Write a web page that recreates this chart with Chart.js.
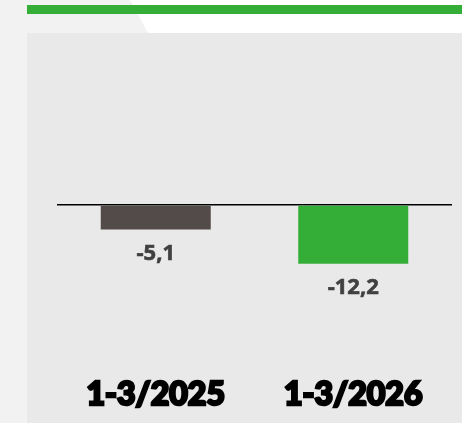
<!DOCTYPE html>
<html><head><meta charset="utf-8">
<script src="https://cdn.jsdelivr.net/npm/chart.js@4/dist/chart.umd.min.js"></script>
<style>html,body{margin:0;padding:0;background:#fff;}#wrap{width:462px;height:423px;position:relative;}</style>
</head><body><div id="wrap"><canvas id="c" width="462" height="423"></canvas></div>
<script>
const categories = ["1-3/2025", "1-3/2026"];
const values = [-5.1, -12.2];
const valueLabels = ["-5,1", "-12,2"];
const barColors = ["#534a4a", "#35ae37"];

const bgPlugin = {
  id: 'bg',
  beforeDraw(chart) {
    const ctx = chart.ctx;
    ctx.save();
    ctx.fillStyle = '#ffffff';
    ctx.fillRect(0, 0, 462, 423);
    ctx.fillStyle = '#f2f2f2';
    ctx.fillRect(0, 0, 27, 423);
    ctx.beginPath();
    ctx.moveTo(0, 0); ctx.lineTo(130, 0); ctx.lineTo(148, 33); ctx.lineTo(0, 33); ctx.closePath();
    ctx.fill();
    ctx.fillStyle = '#e9e9e9';
    ctx.fillRect(27, 33, 435, 390);
    ctx.fillStyle = '#35ae37';
    ctx.fillRect(27, 5, 435, 9);
    ctx.restore();
  }
};

const labelPlugin = {
  id: 'vlabels',
  afterDatasetsDraw(chart) {
    const ctx = chart.ctx;
    const meta = chart.getDatasetMeta(0);
    ctx.save();
    ctx.font = 'bold 22px "Open Sans"';
    ctx.fillStyle = '#404040';
    ctx.strokeStyle = '#404040';
    ctx.lineWidth = 0.6;
    ctx.textAlign = 'center';
    ctx.textBaseline = 'alphabetic';
    meta.data.forEach((bar, i) => {
      ctx.fillText(valueLabels[i], bar.x, bar.y + 30);
      ctx.strokeText(valueLabels[i], bar.x, bar.y + 30);
    });
    ctx.restore();
  }
};

new Chart(document.getElementById('c'), {
  type: 'bar',
  data: {
    labels: categories,
    datasets: [{ data: values, backgroundColor: barColors, barPercentage: 0.557, categoryPercentage: 1 }]
  },
  options: {
    responsive: false,
    animation: false,
    layout: { padding: { left: 57, right: 10, top: 40, bottom: 0 } },
    plugins: { legend: { display: false }, tooltip: { enabled: false } },
    scales: {
      x: {
        afterFit(scale) { scale.height = 53; },
        grid: { display: false, drawTicks: false },
        border: { display: false },
        ticks: { color: '#000', textStrokeColor: '#000', textStrokeWidth: 2.5, font: { family: 'Lato', weight: 900, size: 32 }, padding: 5 }
      },
      y: {
        display: true,
        min: -34.23, max: 34.23,
        afterFit(scale) { scale.width = 0; },
        ticks: { display: false, stepSize: 34.23 },
        border: { display: false },
        grid: {
          drawTicks: false,
          color: (c) => c.tick && c.tick.value === 0 ? '#000' : 'rgba(0,0,0,0)',
          lineWidth: 1.5
        }
      }
    }
  },
  plugins: [bgPlugin, labelPlugin]
});
</script>
</body></html>
